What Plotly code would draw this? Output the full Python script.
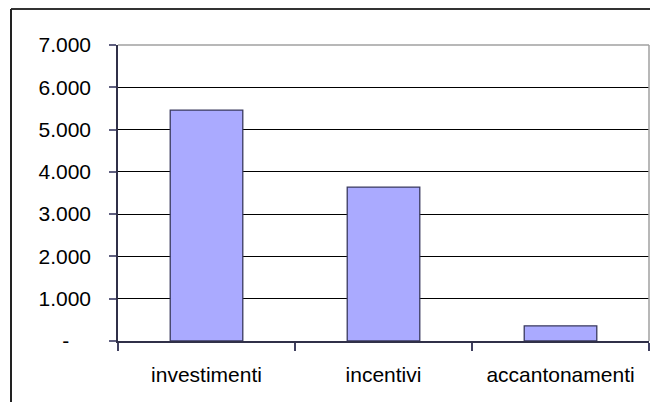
import plotly.graph_objects as go

categories = ["investimenti", "incentivi", "accantonamenti"]
values = [5460, 3640, 360]
tick_vals = [0, 1000, 2000, 3000, 4000, 5000, 6000, 7000]
tick_text = ["-\u00a0\u00a0\u00a0\u2009", "1.000", "2.000", "3.000", "4.000", "5.000", "6.000", "7.000"]

FONT = "Liberation Sans, Arial, sans-serif"

fig = go.Figure(go.Bar(
    x=categories, y=values,
    marker=dict(color="#AAAAFF", line=dict(color="#3A3A5E", width=1.3)),
    width=0.41,
))

W, H = 650, 402
L, R, T, B = 118, 1, 45, 61
pw = W - L - R
ph = H - T - B

fig.update_layout(
    width=W, height=H,
    margin=dict(l=L, r=R, t=T, b=B),
    paper_bgcolor="white", plot_bgcolor="white",
    showlegend=False,
    font=dict(family=FONT, size=21, color="black"),
    xaxis=dict(
        type="category", tickson="boundaries", ticks="outside", ticklen=8,
        tickcolor="#404060", tickwidth=1.5, showline=True, linecolor="#303048", linewidth=1.5,
        showgrid=False, ticklabelstandoff=14,
        tickfont=dict(family=FONT, size=21, color="black"),
    ),
    yaxis=dict(
        range=[0, 7000], tickvals=tick_vals, ticktext=tick_text,
        ticks="outside", ticklen=7, tickcolor="#606080", tickwidth=1.5,
        showline=True, linecolor="#303048", linewidth=1.5,
        showgrid=True, gridcolor="black", gridwidth=1, zeroline=False,
        ticklabelstandoff=14,
        tickfont=dict(family=FONT, size=21, color="black"),
    ),
    shapes=[
        # plot area top and right border (gray)
        dict(type="line", xref="paper", yref="paper", x0=0, x1=1, y0=1, y1=1,
             line=dict(color="#A0A0A0", width=1.5), layer="above"),
        dict(type="line", xref="paper", yref="paper", x0=1, x1=1, y0=0, y1=1,
             line=dict(color="#A0A0A0", width=1.5), layer="above"),
        # outer chart border (left and top visible)
        dict(type="line", xref="paper", yref="paper",
             x0=(11 - L) / pw, x1=(W + 5 - L) / pw,
             y0=1 + (T - 9) / ph, y1=1 + (T - 9) / ph,
             line=dict(color="#333333", width=2)),
        dict(type="line", xref="paper", yref="paper",
             x0=(11 - L) / pw, x1=(11 - L) / pw,
             y0=1 + (T - 9) / ph, y1=-(B + 10) / ph,
             line=dict(color="#222222", width=2)),
    ],
)

fig.write_html(
    "out.html",
    config={"displayModeBar": False},
    post_script="document.body.style.margin='0';document.body.style.overflow='hidden';",
)
